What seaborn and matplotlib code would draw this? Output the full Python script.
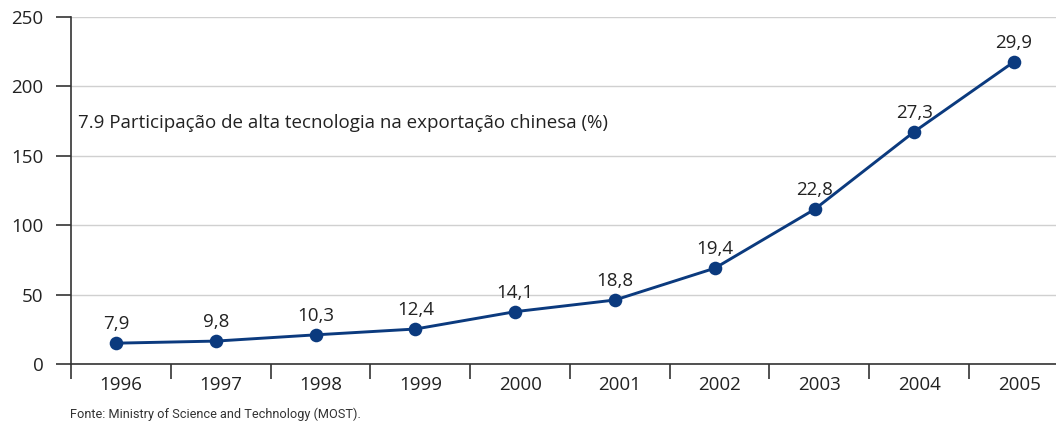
import numpy as np
import pandas as pd
import seaborn as sns
import matplotlib.pyplot as plt

# Data
anos = ["1996", "1997", "1998", "1999", "2000", "2001", "2002", "2003", "2004", "2005"]
valores = [15, 16.5, 21, 25.2, 37.7, 46.1, 69, 111.4, 167.4, 217.8]
rotulos = ["7,9", "9,8", "10,3", "12,4", "14,1", "18,8", "19,4", "22,8", "27,3", "29,9"]

df = pd.DataFrame({"pos": np.arange(len(anos)), "valor": valores})

sns.set_style("white")
plt.rcParams["font.family"] = ["Open Sans", "DejaVu Sans"]

fig = plt.figure(figsize=(10.56, 4.23), dpi=100)
ax = fig.add_axes([0.0672, 0.1395, 0.9328, 0.8203])

azul = "#0b3a7e"
sns.lineplot(data=df, x="pos", y="valor", ax=ax, color=azul, linewidth=2.1,
             marker="o", markersize=9.8, markeredgewidth=0, zorder=3)

for x, y, r in zip(df["pos"], df["valor"], rotulos):
    ax.annotate(r, (x, y), xytext=(0, 10), textcoords="offset points",
                ha="center", va="baseline", fontsize=13.5, color="#222222")

ax.set_ylim(0, 250)
ax.set_xlim(-0.452, 9.42)
ax.set_yticks(range(0, 251, 50))
ax.yaxis.grid(True, color="#d0d0d0", linewidth=1)
ax.set_axisbelow(True)

# year labels, tick marks between categories
ax.set_xticks(df["pos"] + 0.05)
ax.set_xticklabels(anos)
ax.set_xticks(np.arange(len(anos)) - 0.452, minor=True)
ax.tick_params(axis="x", which="major", bottom=True, length=0, pad=9, labelsize=13.5,
               labelcolor="#222222")
ax.tick_params(axis="x", which="minor", bottom=True, length=10.8, width=1.2,
               color="#333333", direction="out")
ax.tick_params(axis="y", left=True, length=10.8, width=1.2, color="#333333", pad=9,
               labelsize=13.5, labelcolor="#222222", direction="out")

ax.set_xlabel("")
ax.set_ylabel("")
for s in ["top", "right"]:
    ax.spines[s].set_visible(False)
for s in ["left", "bottom"]:
    ax.spines[s].set_color("#333333")
    ax.spines[s].set_linewidth(1.2)

ax.text(0.0071, 0.680, "7.9 Participação de alta tecnologia na exportação chinesa (%)",
        transform=ax.transAxes, fontsize=13.5, color="#222222", va="baseline")

fig.text(0.066, 0.012, "Fonte: Ministry of Science and Technology (MOST).",
         fontsize=9.2, color="#333333", va="baseline", fontstretch="condensed",
         family=["Roboto", "DejaVu Sans"])

fig.savefig("out.png", dpi=100)
